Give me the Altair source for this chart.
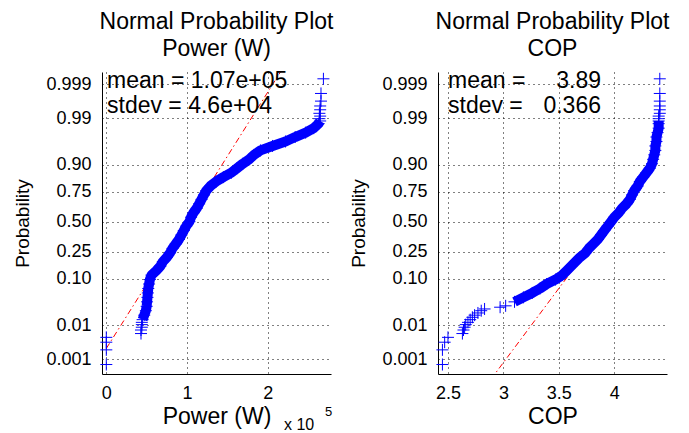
import altair as alt
import pandas as pd
from statistics import NormalDist

FONT = "Liberation Sans"
BLUE = "#0000ff"
PLUS = "M-1,0L1,0M0,-1L0,1"

# probability ticks of the normal-probability axis
P_TICKS = [0.001, 0.01, 0.10, 0.25, 0.50, 0.75, 0.90, 0.99, 0.999]
P_LABELS = ["0.001", "0.01", "0.10", "0.25", "0.50", "0.75", "0.90", "0.99", "0.999"]

# Power (W) sample: plotting probability and value
power_p = [0.00067, 0.0020, 0.0034, 0.0047, 0.0060, 0.0075, 0.0089, 0.0104, 0.0119, 0.0139,
           0.0179, 0.0228, 0.0287, 0.0359, 0.0446, 0.0548, 0.0668, 0.0808, 0.0968, 0.1151,
           0.1357, 0.1587, 0.1841, 0.2119, 0.2420, 0.2743, 0.3085, 0.3446, 0.3821, 0.4207,
           0.4602, 0.5000, 0.5398, 0.5793, 0.6179, 0.6554, 0.6915, 0.7257, 0.7580, 0.7881,
           0.8159, 0.8413, 0.8643, 0.8849, 0.9032, 0.9192, 0.9332, 0.9452, 0.9554, 0.9641,
           0.9713, 0.9772, 0.9821, 0.9861, 0.9881, 0.9896, 0.9911, 0.9925, 0.9940, 0.9953,
           0.9966, 0.9980, 0.99933]
power_w = [0, 0, 0, 0, 43000, 43000, 44000, 44000, 44000, 45000,
           47000, 49000, 50000, 50500, 51000, 51500, 52000, 53000, 54000, 56000,
           62000, 67000, 70000, 75000, 79000, 82000, 86000, 90000, 93000, 96000,
           99000, 103000, 105000, 108000, 112000, 115000, 118000, 121000, 124000, 129000,
           136000, 145000, 155000, 162000, 169000, 177000, 183000, 191000, 206000, 222000,
           234000, 247000, 257000, 263000, 265000, 264000, 265000, 264000, 265000, 265000,
           266000, 266000, 269000]

# COP sample
cop_p = [0.00067, 0.0020, 0.0034, 0.0047, 0.0060, 0.0075, 0.0089, 0.0104, 0.0119, 0.0139,
         0.0159, 0.0179, 0.0202, 0.0228, 0.0250, 0.0274, 0.0294, 0.0359, 0.0446, 0.0548,
         0.0668, 0.0808, 0.0968, 0.1151, 0.1357, 0.1587, 0.1841, 0.2119, 0.2420, 0.2743,
         0.3085, 0.3446, 0.3821, 0.4207, 0.4602, 0.5000, 0.5398, 0.5793, 0.6179, 0.6554,
         0.6915, 0.7257, 0.7580, 0.7881, 0.8159, 0.8413, 0.8643, 0.8849, 0.9032, 0.9192,
         0.9332, 0.9452, 0.9554, 0.9641, 0.9713, 0.9772, 0.9821, 0.9861, 0.9881, 0.9896,
         0.9911, 0.9925, 0.9940, 0.9953, 0.9966, 0.9980, 0.99933]
cop_v = [2.45, 2.45, 2.47, 2.50, 2.63, 2.64, 2.65, 2.66, 2.68, 2.70,
         2.72, 2.74, 2.77, 2.80, 2.83, 2.97, 3.02, 3.10, 3.18, 3.26,
         3.33, 3.39, 3.47, 3.53, 3.57, 3.61, 3.65, 3.69, 3.74, 3.77,
         3.81, 3.85, 3.88, 3.91, 3.94, 3.97, 4.00, 4.04, 4.07, 4.11,
         4.14, 4.16, 4.18, 4.21, 4.23, 4.26, 4.29, 4.32, 4.34, 4.35,
         4.36, 4.37, 4.37, 4.38, 4.38, 4.39, 4.40, 4.40, 4.40, 4.40,
         4.40, 4.41, 4.41, 4.41, 4.41, 4.41, 4.41]

# values at the 1st and 3rd quartile used by the reference line
power_quartiles = [75500, 122400]
cop_quartiles = [3.747, 4.152]

ND = NormalDist()
Z_TICKS = [ND.inv_cdf(p) for p in P_TICKS]
Z75 = ND.inv_cdf(0.75)
Z_DOMAIN = [-3.42, 3.36]

label_expr = ""
for z, lab in zip(Z_TICKS, P_LABELS):
    label_expr += f"abs(datum.value - ({z:.5f})) < 0.01 ? '{lab}' : "
label_expr += "''"


def ref_line(xs, q):
    lo, hi = min(xs), max(xs)
    def zf(x):
        return -Z75 + (x - q[0]) / (q[1] - q[0]) * 2 * Z75
    return pd.DataFrame({"x": [lo, hi], "z": [zf(lo), zf(hi)]})


def text_layer(txt, x, y, align="left", size=23):
    return alt.Chart(alt.Data(values=[{}])).mark_text(
        align=align, baseline="alphabetic", font=FONT, fontSize=size, color="black"
    ).encode(x=alt.value(x), y=alt.value(y), text=alt.value(txt))


def panel(xs, ps, quart, x_domain, x_ticks, x_label_expr, x_title, title2,
          band_range, texts):
    df = pd.DataFrame({"x": xs, "p": ps})
    xenc = alt.X("x:Q", scale=alt.Scale(domain=x_domain, nice=False, zero=False),
                 axis=alt.Axis(values=x_ticks, labelExpr=x_label_expr, title=x_title))
    yenc = alt.Y("z:Q", scale=alt.Scale(domain=Z_DOMAIN, nice=False, zero=False),
                 axis=alt.Axis(values=Z_TICKS, labelExpr=label_expr, title="Probability"))
    base = alt.Chart(df).transform_calculate(z="quantileNormal(datum.p)")
    ref = alt.Chart(ref_line(xs, quart)).mark_line(
        color="#ff0000", strokeWidth=1, strokeDash=[6, 3, 1.5, 3], clip=True
    ).encode(x=xenc, y=yenc)
    band = base.transform_filter(
        (alt.datum.p >= band_range[0]) & (alt.datum.p <= band_range[1])
    ).mark_line(color=BLUE, strokeWidth=10, strokeCap="butt", strokeJoin="round").encode(
        x=xenc, y=yenc, order=alt.Order("p:Q"))
    pts = base.mark_point(shape=PLUS, filled=False, size=144, strokeWidth=1,
                          color=BLUE, opacity=1).encode(x=xenc, y=yenc)
    layers = [ref, band, pts] + [text_layer(*t) for t in texts]
    return alt.layer(*layers).properties(
        width=229, height=302,
        title=alt.TitleParams(["Normal Probability Plot", title2], fontSize=23, font=FONT,
                              fontWeight="normal", color="black", lineHeight=27,
                              offset=9, anchor="middle", frame="group"))


left = panel(power_w, power_p, power_quartiles, [-5330, 278400], [0, 100000, 200000],
             "format(datum.value / 100000, 'd')", "Power (W)", "Power (W)",
             [0.0139, 0.9881],
             [("mean = 1.07e+05", 5, 16), ("stdev = 4.6e+04", 5, 41),
              ("x 10", 182, 358, "left", 16), ("5", 223, 344, "left", 13)])

right = panel(cop_v, cop_p, cop_quartiles, [2.41, 4.475], [2.5, 3, 3.5, 4],
              "datum.value + ''", "COP", "COP",
              [0.0359, 0.9881],
              [("mean =", 10, 16), ("3.89", 163, 16, "right"),
               ("stdev =", 10, 41), ("0.366", 163, 41, "right")])

chart = alt.hconcat(left, right, spacing=107, bounds="flush").configure_view(
    stroke=None
).configure_axis(
    domainColor="black", domainWidth=1, ticks=False,
    grid=True, gridColor="black", gridDash=[1, 4], gridOpacity=1, gridWidth=1,
    labelFont=FONT, labelFontSize=18, labelColor="black",
    labelFlush=False, labelOverlap=False,
    titleFont=FONT, titleFontWeight="normal", titleColor="black"
).configure_axisX(
    labelPadding=10, titlePadding=3, titleFontSize=23
).configure_axisY(
    labelPadding=11, titlePadding=13, titleFontSize=19
).properties(
    padding={"left": 5, "top": 3, "right": 5, "bottom": 0}
)

chart.save("out.html", embed_options={"renderer": "svg", "actions": False})
